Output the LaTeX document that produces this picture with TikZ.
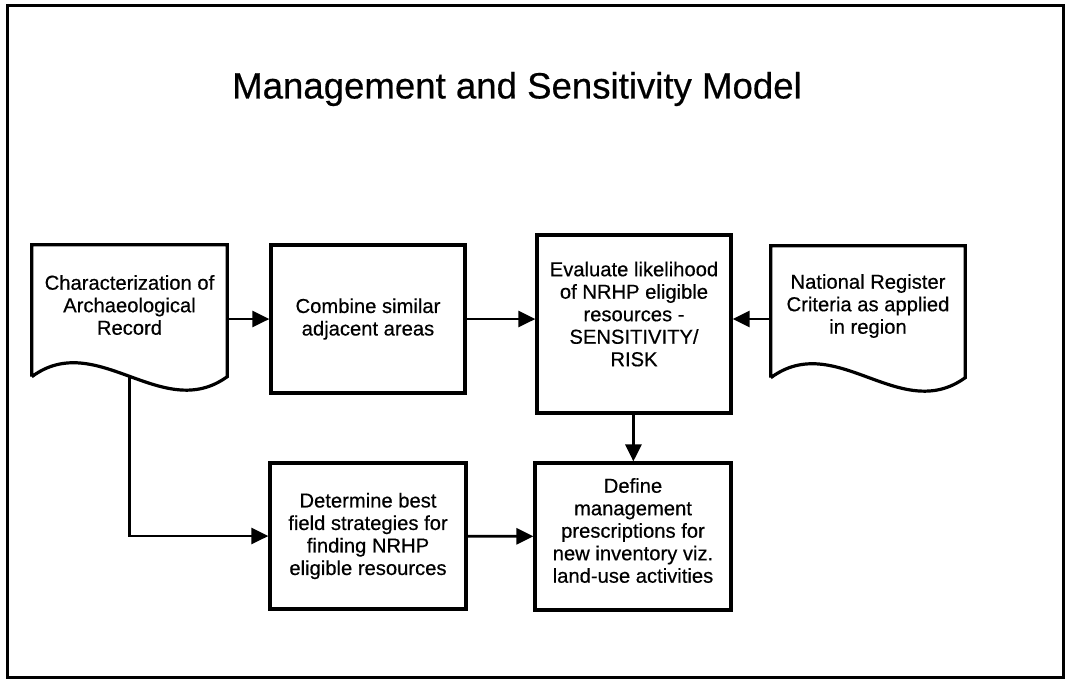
\documentclass[tikz,border=0pt]{standalone}
\usepackage{fontspec}
\setmainfont{Liberation Sans}[FakeBold=0.5]
\usetikzlibrary{arrows.meta}

\begin{document}
\begin{tikzpicture}[x=1pt, y=-1pt,
        box/.style={draw, line width=3.2pt, align=center, inner sep=4pt,
            font=\fontsize{20.2}{22.5}\selectfont},
        txt/.style={align=center, inner sep=4pt, font=\fontsize{20.2}{22.5}\selectfont},
        flow/.style={line width=2.8pt, -{Triangle[length=17pt,width=16pt]}}]
                \useasboundingbox (0,0) rectangle (1066,680);
                \draw[line width=3pt] (7,5) rectangle (1063,677);
                \node (title) at (517,89) {\fontsize{36.6}{40}\selectfont Management and Sensitivity Model};
                % top row
                \node[txt, minimum width=195pt, minimum height=120pt] (rec) at (129.5,305)
                    {Characterization of\\Archaeological\\Record};
                \node[box, minimum width=194pt, minimum height=148pt] (comb) at (368,319)
                    {Combine similar\\adjacent areas};
                \node[box, minimum width=194pt, minimum height=178pt] (eval) at (634,324) {};
                \node[txt] (eval-t) at ([yshift=10pt]eval.center)
                    {Evaluate likelihood\\of NRHP eligible\\resources -\\SENSITIVITY/\\RISK};
                \node[txt, minimum width=194pt, minimum height=120pt] (nrc) at (868,306)
                    {National Register\\Criteria as applied\\in region};
                % bottom row
                \node[box, minimum width=196pt, minimum height=146pt] (det) at (368,536)
                    {Determine best\\field strategies for\\finding NRHP\\eligible resources};
                \node[box, minimum width=196pt, minimum height=147pt] (defn) at (633,536.5) {};
                \node[txt] (defn-t) at ([yshift=6pt]defn.center)
                    {Define\\management\\prescriptions for\\new inventory viz.\\land-use activities};
                % document outlines, wavy bottom
                \foreach \d in {rec, nrc}
                    \draw[line width=3.2pt, line join=miter] ([yshift=-11.5pt]\d.south west) -- (\d.north west) -- (\d.north east) -- ([yshift=-11.5pt]\d.south east)
                        .. controls ([xshift=-65pt, yshift=-58.5pt]\d.south east) and ([xshift=65pt, yshift=36.5pt]\d.south west) .. ([yshift=-11.5pt]\d.south west);
                % connectors
                \draw[flow] (rec.east |- comb) -- (comb);
                \draw[flow] (comb) -- (comb -| eval.west);
                \draw[flow] (nrc.west |- comb) -- (comb -| eval.east);
                \draw[flow] (eval) -- (defn);
                \draw[flow] ([yshift=-11.5pt]rec.south) |- (det.west);
                \draw[flow] (det) -- (defn);
            \end{tikzpicture}
\end{document}
